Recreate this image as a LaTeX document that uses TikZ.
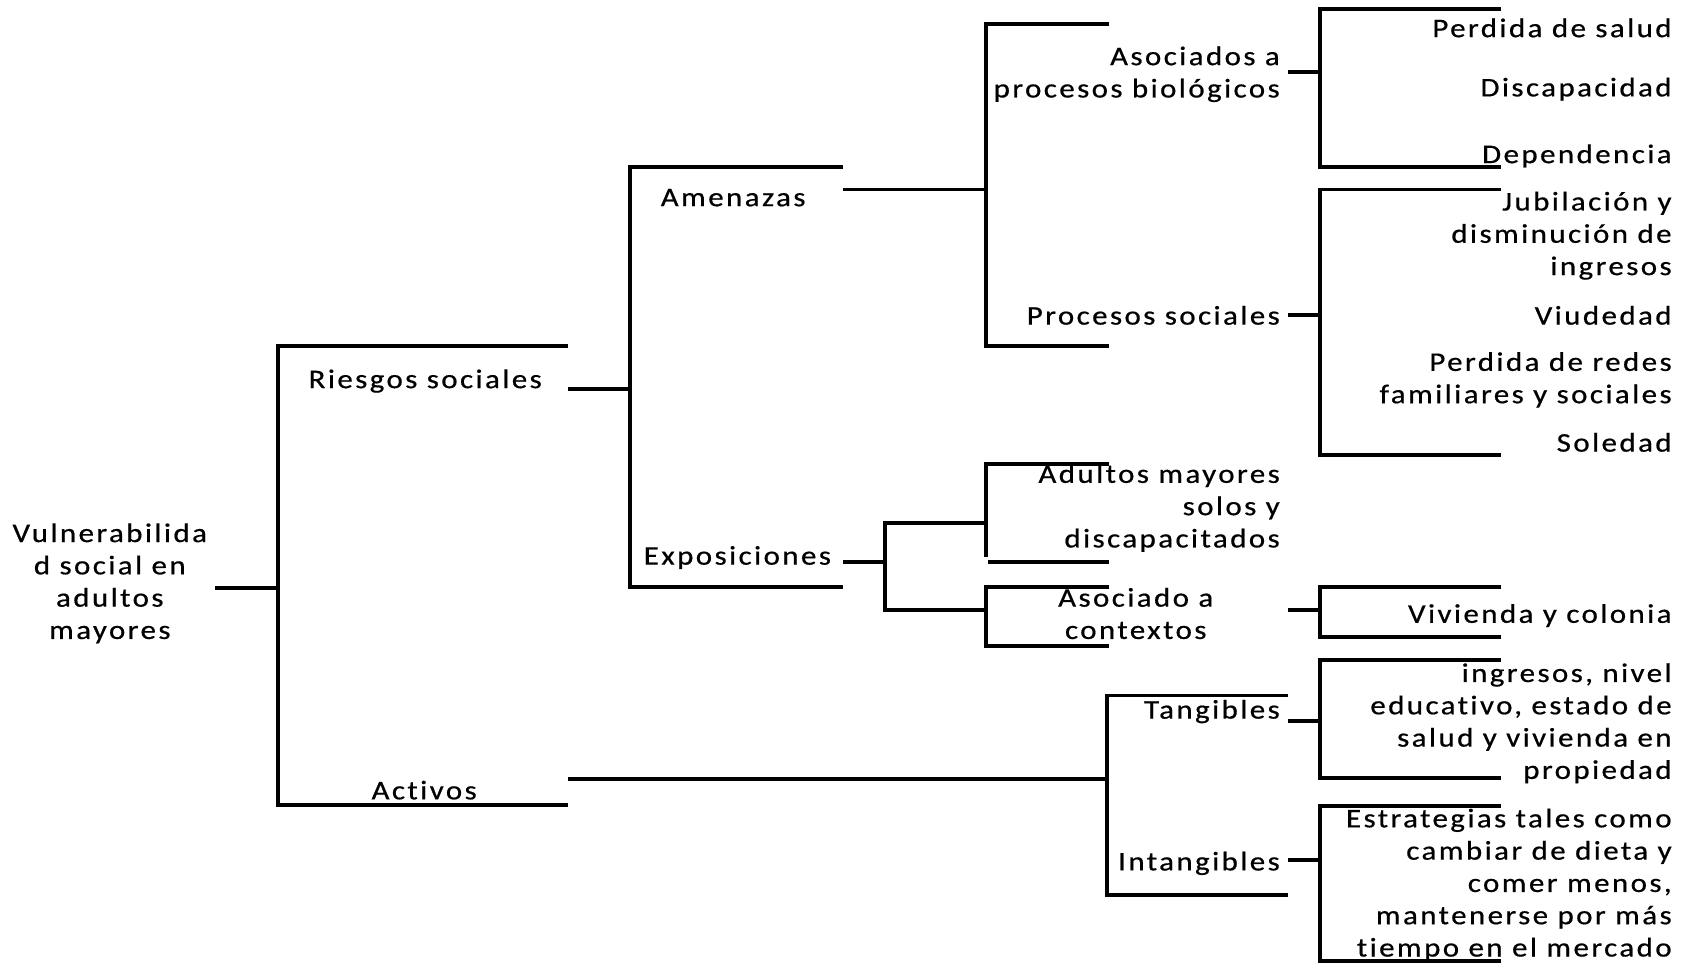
\documentclass[tikz,border=0pt]{standalone}
\usepackage{fontspec}
\setmainfont[LetterSpace=9,FakeStretch=1.15,FakeBold=0.6,Ligatures=NoCommon]{Carlito}
\begin{document}
\begin{tikzpicture}[x=1pt,y=-1pt,
  lbl/.style={inner sep=0pt, font=\fontsize{25}{30}\selectfont},
  rl/.style={lbl, anchor=base east, align=right},
  cl/.style={lbl, anchor=base, align=center},
  br/.style={draw=black, line width=3.6pt, line join=miter, line cap=butt}]
\useasboundingbox (0,0) rectangle (1568,895);

% ---------- text nodes (placed at the baseline of their last line) ----------
\node[cl] (root) at (102,593.5) {Vulnerabilida\\d social en\\adultos\\mayores};
\node[cl] (riesgos) at (395,360.5) {Riesgos sociales};
\node[cl] (activos) at (394,742.5) {Activos};
\node[cl] (amen) at (681,191.5) {Amenazas};
\node[cl] (expo) at (685,524.5) {Exposiciones};
\node[rl] (bio) at (1189,90.5) {Asociados a\\procesos biológicos};
\node[rl] (soc) at (1189,301.5) {Procesos sociales};
\node[rl] (solos) at (1189,508.5) {Adultos mayores\\solos y\\discapacitados};
\node[cl] (ctx) at (1055,593.5) {Asociado a\\contextos};
\node[rl] (tang) at (1189,667.5) {Tangibles};
\node[rl] (intang) at (1189,808.5) {Intangibles};

\node[rl] (salud) at (1553,34.5) {Perdida de salud};
\node[rl] (disc) at (1553,89.5) {Discapacidad};
\node[rl] (dep) at (1553,151.5) {Dependencia};
\node[rl] (jub) at (1553,255.5) {Jubilación y\\disminución de\\ingresos};
\node[rl] (viu) at (1553,301.5) {Viudedad};
\node[rl] (redes) at (1553,374.5) {Perdida de redes\\familiares y sociales};
\node[rl] (sole) at (1553,419.5) {Soledad};
\node[rl] (viv) at (1553,578.5) {Vivienda y colonia};
\node[rl] (tangtxt) at (1553,723.5) {ingresos, nivel\\educativo, estado de\\salud y vivienda en\\propiedad};
\node[rl] (inttxt) at (1553,888.5) {Estrategias tales como\\cambiar de dieta y\\comer menos,\\mantenerse por más\\tiempo en el mercado};

% ---------- junction coordinates ----------
\coordinate (rootS) at (200,546);   \coordinate (rootJ) at (258,546);
\coordinate (riesS) at (528,361);   \coordinate (riesJ) at (585,361);
\coordinate (actS) at (528,724);    \coordinate (actJ) at (1028,724);
\coordinate (amenS) at (783,176);   \coordinate (amenJ) at (916,176);
\coordinate (expoS) at (783,522);   \coordinate (expoJ) at (822,522);
\coordinate (bioS) at (1196,67);    \coordinate (bioJ) at (1226,67);
\coordinate (socS) at (1196,293);   \coordinate (socJ) at (1226,293);
\coordinate (ctxS) at (1196,567);   \coordinate (ctxJ) at (1226,567);
\coordinate (tangS) at (1196,670);  \coordinate (tangJ) at (1226,670);
\coordinate (intS) at (1196,799);   \coordinate (intJ) at (1226,799);

% ---------- stubs ----------
\draw[br] (rootS) -- (rootJ);
\draw[br] (riesS) -- (riesJ);
\draw[br] (actS) -- (actJ);
\draw[br] (amenS) -- (amenJ);
\draw[br] (expoS) -- (expoJ);
\draw[br] (bioS) -- (bioJ);
\draw[br] (socS) -- (socJ);
\draw[br] (ctxS) -- (ctxJ);
\draw[br] (tangS) -- (tangJ);
\draw[br] (intS) -- (intJ);

% ---------- brackets ----------
\draw[br] (528,321) -| (258,748) -- (528,748);
\draw[br] (783,155) -| (585,545) -- (783,545);
\draw[br] (1030,22) -| (916,321) -- (1030,321);
\draw[br] (1394,8) -| (1226,155) -- (1394,155);
\draw[br] (1394,176) -| (1226,423) -- (1394,423);
\draw[br] (916,486) -| (822,567) -- (916,567);
\draw[br] (1030,431) -| (916,517);
\draw[br] (918,522) -- (1030,522);
\draw[br] (1030,545) -| (916,600) -- (1030,600);
\draw[br] (1394,545) -| (1226,592) -- (1394,592);
\draw[br] (1196,646) -| (1028,831) -- (1196,831);
\draw[br] (1394,613) -| (1226,723) -- (1394,723);
\draw[br] (1394,749) -| (1226,893) -- (1394,893);
\end{tikzpicture}
\end{document}
